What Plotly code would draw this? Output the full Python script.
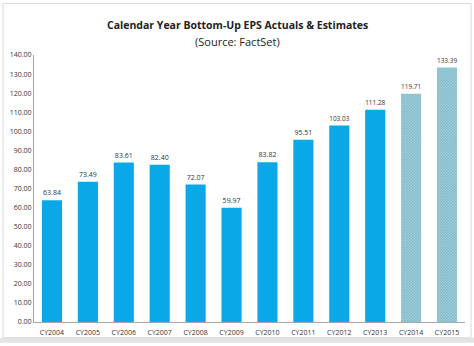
import plotly.graph_objects as go

categories = ["CY2004", "CY2005", "CY2006", "CY2007", "CY2008", "CY2009",
              "CY2010", "CY2011", "CY2012", "CY2013", "CY2014", "CY2015"]
eps_values = [63.84, 73.49, 83.61, 82.40, 72.07, 59.97,
              83.82, 95.51, 103.03, 111.28, 119.71, 133.39]
is_estimate = [False] * 10 + [True, True]
y_ticks = [0, 10, 20, 30, 40, 50, 60, 70, 80, 90, 100, 110, 120, 130, 140]

solid = "#0AA8E6"
fig = go.Figure()
fig.add_trace(go.Bar(
    x=categories, y=eps_values,
    width=0.56,
    marker=dict(
        color=["#9ad4e2" if e else solid for e in is_estimate],
        line=dict(width=0),
        pattern=dict(
            shape=["x" if e else "" for e in is_estimate],
            fgcolor="#84cada", size=2, solidity=0.3,
        ),
    ),
    text=[f"{v:.2f}" for v in eps_values],
    textposition="outside",
    textfont=dict(size=7, color="#333333", family="Open Sans"),
    cliponaxis=False,
))

W, H = 474, 346
L, R, T, B = 34, 9, 55, 21
pw, ph = W - L - R, H - T - B

def px(x):
    return (x - L) / pw

def py(y):
    return (H - B - y) / ph

fig.add_shape(type="rect", xref="paper", yref="paper",
              x0=px(0), x1=px(W), y0=py(H), y1=py(341),
              fillcolor="#e3e3e3", line=dict(width=0), layer="below")
fig.add_shape(type="rect", xref="paper", yref="paper",
              x0=px(3), x1=px(471), y0=py(341), y1=py(3),
              fillcolor="rgba(0,0,0,0)", line=dict(color="#d9d9d9", width=1), layer="below")

fig.add_annotation(text="<b>Calendar Year Bottom-Up EPS Actuals &amp; Estimates</b>",
                   xref="paper", yref="paper", x=px(237), y=py(16), showarrow=False,
                   font=dict(size=10.5, color="#222222", family="Open Sans"))
fig.add_annotation(text="(Source: FactSet)",
                   xref="paper", yref="paper", x=px(237), y=py(32), showarrow=False,
                   font=dict(size=11, color="#222222", family="Open Sans"))

fig.update_layout(
    width=W, height=H,
    margin=dict(l=L, r=R, t=T, b=B),
    paper_bgcolor="white", plot_bgcolor="white",
    showlegend=False,
    xaxis=dict(showgrid=False, showline=True, linecolor="#a6a6a6", linewidth=1,
               ticks="", ticklabelstandoff=4,
               tickfont=dict(size=7, color="#333333", family="Open Sans")),
    yaxis=dict(range=[0, 140], tickvals=y_ticks, tickformat=".2f",
               showgrid=False, showline=True, linecolor="#a6a6a6", linewidth=1,
               ticks="", zeroline=False,
               tickfont=dict(size=7, color="#333333", family="Open Sans")),
)

fig.write_html("out.html")
